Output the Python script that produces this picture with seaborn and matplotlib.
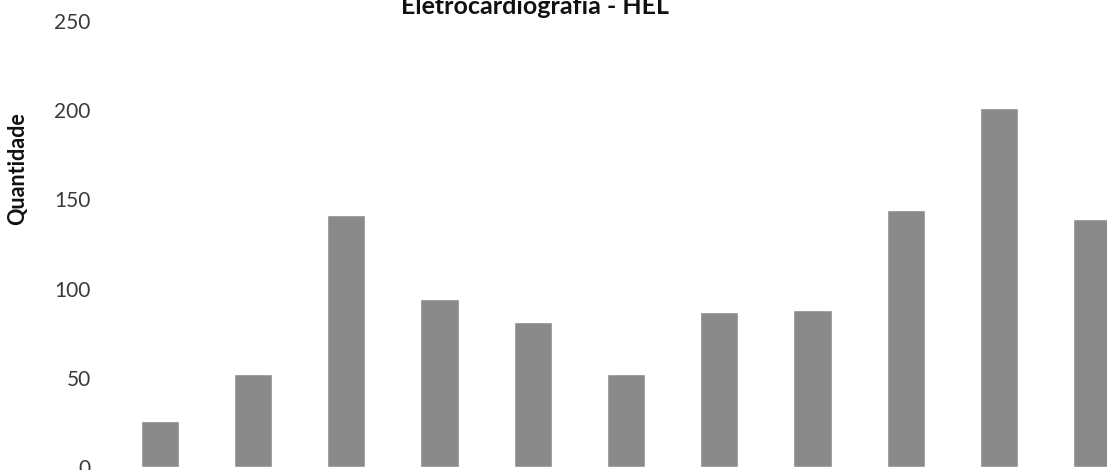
import matplotlib
matplotlib.use("Agg")
import matplotlib.pyplot as plt
import seaborn as sns
import pandas as pd

categories = ["Jan", "Fev", "Mar", "Abr", "Mai", "Jun", "Jul", "Ago", "Set", "Out", "Nov"]
values = [26, 52, 141, 94, 81, 52, 87, 88, 144, 201, 139]
yticks = [0, 50, 100, 150, 200, 250]

sns.set_theme(style="white")
plt.rcParams['font.family'] = ['Lato', 'DejaVu Sans']

df = pd.DataFrame({"mes": categories, "qtd": values})

fig = plt.figure(figsize=(11.07, 4.70), dpi=100)
ax = fig.add_axes([110/1107, 3/470, 997/1107, 446/470])
sns.barplot(data=df, x="mes", y="qtd", color="#8a8a8a", saturation=1, width=0.41, ax=ax)

ax.set_ylim(0, 250)
ax.set_yticks(yticks)
ax.set_xlim(-0.536, 10.16)
for s in ax.spines.values():
    s.set_visible(False)
ax.tick_params(axis='y', length=0, labelsize=15, labelcolor="#3a3a3a", pad=14)
ax.tick_params(axis='x', length=0, labelbottom=False)
ax.set_xlabel("")
ax.set_ylabel("")

fig.text(18/1107, 1 - 169/470, "Quantidade", rotation=90, ha="center", va="center",
         fontsize=15.5, fontweight="bold", color="#111111")
fig.text(535/1107, 1 - 14/470, "Eletrocardiografia - HEL", ha="center", va="baseline",
         fontsize=18, fontweight="bold", color="#111111")

fig.savefig("out.png", dpi=100)
